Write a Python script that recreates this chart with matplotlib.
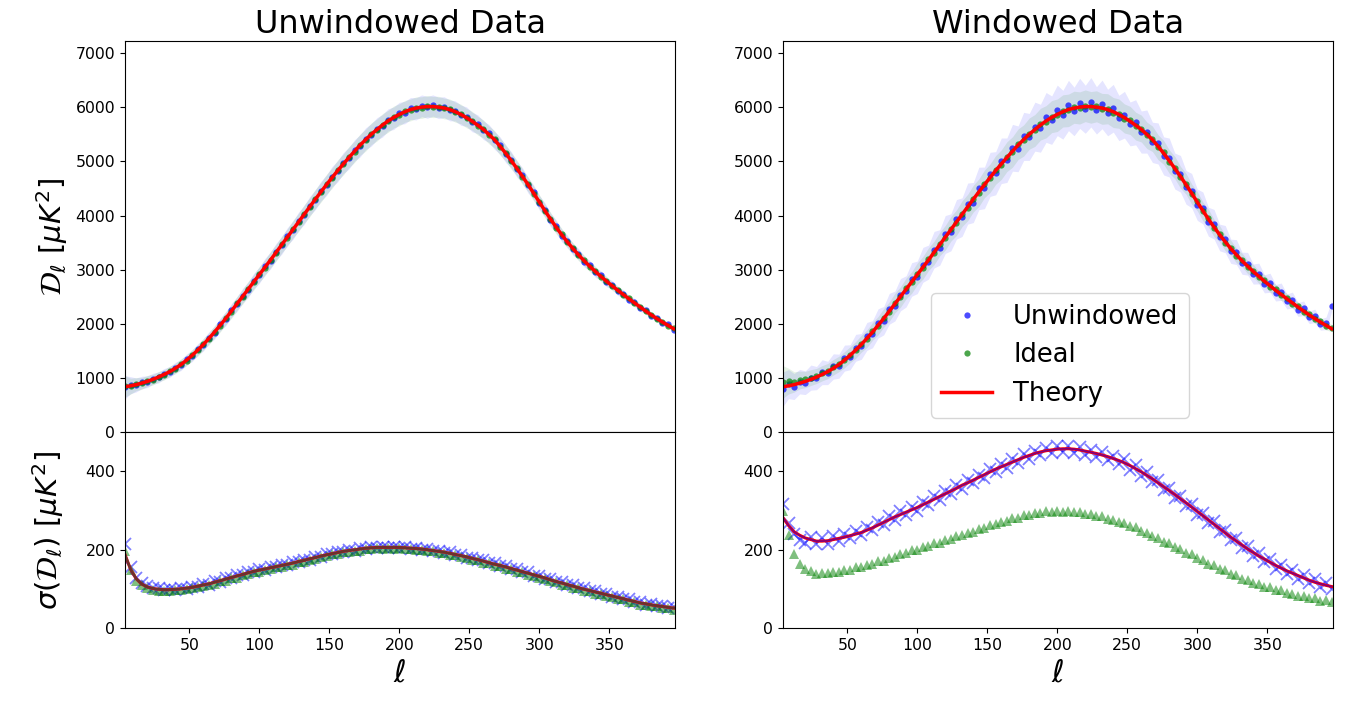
import numpy as np
import matplotlib
matplotlib.use("Agg")
import matplotlib.pyplot as plt

# multipoles of the binned points / theory curve
ell = np.arange(4, 397, 4)

# theory D_ell [muK^2]
d_theory = np.array([
    840, 858, 880, 908, 940, 978, 1020, 1068, 1120, 1182,
    1250, 1332, 1420, 1518, 1620, 1733, 1850, 1975, 2100, 2235,
    2370, 2505, 2640, 2775, 2910, 3045, 3180, 3320, 3460, 3600,
    3740, 3880, 4020, 4160, 4300, 4435, 4570, 4700, 4830, 4950,
    5070, 5185, 5300, 5400, 5500, 5585, 5670, 5745, 5810, 5865,
    5915, 5955, 5982, 6000, 6010, 6010, 6000, 5982, 5955, 5915,
    5865, 5805, 5740, 5665, 5590, 5495, 5400, 5275, 5150, 5010,
    4870, 4720, 4570, 4410, 4250, 4090, 3934, 3786, 3646, 3514,
    3390, 3274, 3166, 3064, 2968, 2876, 2788, 2704, 2622, 2542,
    2464, 2388, 2312, 2238, 2166, 2098, 2034, 1972, 1912])

# unwindowed data panel
d_unw_l = np.array([
    832, 870, 874, 921, 933, 990, 1012, 1080, 1113, 1195,
    1241, 1345, 1411, 1530, 1612, 1745, 1838, 1990, 2092, 2248,
    2362, 2520, 2628, 2790, 2898, 3060, 3170, 3335, 3448, 3615,
    3728, 3895, 4008, 4175, 4290, 4450, 4558, 4718, 4815, 4968,
    5058, 5200, 5286, 5418, 5488, 5602, 5655, 5765, 5795, 5885,
    5900, 5975, 5968, 6025, 5995, 6030, 5985, 6000, 5940, 5930,
    5850, 5825, 5725, 5685, 5575, 5515, 5385, 5292, 5135, 5028,
    4855, 4740, 4555, 4428, 4235, 4110, 3918, 3805, 3630, 3532,
    3375, 3292, 3150, 3082, 2952, 2895, 2772, 2722, 2605, 2560,
    2448, 2405, 2296, 2255, 2150, 2114, 2018, 1990, 1896])
d_ideal_l = np.array([
    848, 852, 889, 902, 948, 972, 1028, 1060, 1128, 1176,
    1258, 1325, 1428, 1510, 1628, 1725, 1858, 1968, 2108, 2228,
    2378, 2498, 2648, 2768, 2918, 3038, 3188, 3312, 3468, 3592,
    3748, 3872, 4028, 4152, 4308, 4428, 4578, 4692, 4838, 4942,
    5078, 5178, 5308, 5392, 5508, 5578, 5678, 5738, 5818, 5858,
    5922, 5948, 5990, 5992, 6018, 6002, 6008, 5975, 5962, 5908,
    5872, 5798, 5748, 5658, 5598, 5488, 5408, 5268, 5158, 5002,
    4878, 4712, 4578, 4402, 4258, 4082, 3942, 3778, 3654, 3506,
    3398, 3266, 3174, 3056, 2976, 2868, 2796, 2696, 2630, 2534,
    2472, 2380, 2320, 2230, 2174, 2090, 2042, 1964, 1920])

# windowed data panel
d_unw_r = np.array([
    795, 890, 845, 935, 915, 1010, 1000, 1110, 1095, 1215,
    1220, 1370, 1385, 1560, 1585, 1770, 1810, 2010, 2060, 2280,
    2330, 2540, 2600, 2820, 2860, 3090, 3140, 3370, 3410, 3650,
    3690, 3930, 3970, 4220, 4240, 4500, 4510, 4760, 4780, 5010,
    5020, 5250, 5230, 5460, 5450, 5640, 5610, 5810, 5760, 5940,
    5860, 6030, 5920, 6070, 5960, 6090, 5940, 6050, 5900, 5980,
    5800, 5860, 5690, 5720, 5540, 5550, 5350, 5330, 5100, 5070,
    4820, 4770, 4520, 4460, 4200, 4140, 3885, 3840, 3595, 3565,
    3340, 3325, 3120, 3110, 2920, 2930, 2740, 2760, 2575, 2595,
    2415, 2440, 2265, 2290, 2120, 2150, 1990, 2010, 2330])
d_ideal_r = np.array([
    930, 945, 930, 965, 975, 1010, 1040, 1090, 1130, 1200,
    1262, 1340, 1432, 1520, 1635, 1728, 1862, 1968, 2112, 2228,
    2385, 2498, 2655, 2765, 2925, 3035, 3195, 3310, 3472, 3590,
    3755, 3868, 4035, 4148, 4312, 4422, 4585, 4688, 4842, 4938,
    5085, 5172, 5315, 5385, 5512, 5570, 5685, 5730, 5825, 5850,
    5930, 5940, 5998, 5985, 6025, 5995, 6015, 5968, 5970, 5900,
    5880, 5790, 5755, 5650, 5605, 5480, 5415, 5260, 5165, 4995,
    4885, 4705, 4585, 4395, 4265, 4075, 3950, 3770, 3662, 3498,
    3405, 3260, 3180, 3050, 2983, 2860, 2803, 2690, 2637, 2528,
    2479, 2374, 2327, 2224, 2181, 2084, 2049, 1958, 1927])

# sigma(D_ell), unwindowed
sig_theory_l = np.array([
    188, 150, 126, 112, 105, 101, 99, 98, 98, 99,
    100, 102, 104, 107, 110, 113, 117, 121, 125, 129,
    133, 137, 141, 145, 148, 151, 154, 157, 160, 163,
    166, 170, 173, 177, 180, 184, 187, 190, 193, 196,
    198, 200, 202, 204, 205, 206, 206, 206, 206, 206,
    205, 204, 203, 202, 200, 198, 196, 194, 191, 188,
    185, 182, 178, 175, 171, 167, 163, 160, 156, 152,
    148, 144, 140, 136, 132, 128, 123, 119, 115, 111,
    107, 103, 99, 96, 92, 89, 85, 82, 78, 75,
    71, 68, 64, 62, 59, 57, 55, 53, 51])
sig_unw_l = np.array([
    215, 157, 129, 114, 108, 101, 101, 97, 100, 98,
    102, 100, 106, 105, 112, 111, 119, 118, 127, 127,
    135, 135, 143, 143, 150, 149, 156, 155, 162, 161,
    168, 168, 175, 175, 182, 182, 189, 188, 195, 194,
    200, 198, 204, 202, 207, 204, 208, 204, 208, 204,
    207, 202, 205, 200, 202, 196, 198, 192, 193, 186,
    187, 180, 180, 173, 173, 165, 165, 158, 158, 150,
    150, 142, 142, 134, 134, 126, 125, 117, 117, 109,
    109, 101, 101, 94, 94, 87, 87, 80, 80, 73,
    73, 66, 66, 60, 61, 55, 57, 51, 53])
sig_ideal_l = np.array([
    198, 147, 121, 109, 101, 98, 95, 95, 94, 96,
    97, 100, 101, 105, 107, 111, 113, 119, 121, 127,
    129, 135, 137, 143, 144, 149, 150, 155, 156, 161,
    162, 168, 169, 175, 176, 182, 183, 188, 189, 194,
    194, 198, 198, 202, 201, 204, 202, 204, 202, 204,
    201, 202, 199, 200, 196, 196, 192, 192, 187, 186,
    181, 180, 174, 173, 167, 165, 159, 158, 152, 150,
    144, 142, 136, 134, 128, 126, 119, 117, 111, 109,
    103, 101, 95, 94, 88, 87, 81, 80, 74, 73,
    67, 66, 60, 60, 55, 55, 51, 51, 47])

# sigma(D_ell), windowed
sig_theory_r = np.array([
    282, 262, 246, 237, 230, 226, 222, 222, 223, 226,
    229, 232, 236, 240, 244, 250, 256, 263, 270, 277,
    284, 290, 296, 302, 308, 315, 322, 329, 336, 343,
    350, 357, 365, 371, 378, 385, 392, 399, 406, 412,
    418, 424, 430, 436, 441, 446, 450, 453, 455, 457,
    458, 458, 457, 455, 452, 449, 446, 442, 438, 433,
    428, 422, 415, 407, 399, 390, 381, 371, 361, 351,
    341, 330, 320, 309, 298, 287, 276, 265, 254, 243,
    232, 222, 212, 202, 193, 184, 176, 168, 160, 153,
    146, 140, 134, 128, 122, 117, 113, 109, 106])
sig_unw_r = np.array([
    318, 268, 240, 226, 218, 232, 214, 230, 215, 234,
    222, 240, 230, 248, 238, 258, 250, 270, 262, 285,
    276, 298, 288, 310, 300, 322, 314, 337, 328, 350,
    342, 365, 356, 379, 370, 392, 384, 407, 398, 420,
    410, 432, 422, 444, 433, 452, 442, 460, 447, 466,
    450, 464, 448, 462, 443, 456, 437, 449, 430, 440,
    418, 431, 405, 416, 389, 398, 372, 379, 352, 359,
    332, 338, 311, 317, 289, 295, 268, 273, 246, 251,
    224, 230, 204, 210, 185, 192, 168, 176, 152, 160,
    138, 147, 126, 135, 114, 124, 105, 116, 100])
sig_ideal_r = np.array([
    300, 238, 188, 163, 150, 146, 139, 141, 140, 144,
    142, 149, 148, 155, 156, 162, 163, 170, 171, 179,
    181, 189, 191, 199, 200, 208, 209, 217, 218, 226,
    227, 235, 237, 244, 246, 254, 255, 263, 265, 272,
    274, 281, 282, 288, 288, 294, 293, 298, 296, 300,
    297, 300, 296, 297, 292, 292, 286, 285, 278, 277,
    270, 268, 260, 257, 248, 244, 234, 230, 220, 216,
    206, 202, 192, 188, 178, 174, 164, 160, 150, 147,
    138, 135, 126, 123, 115, 113, 105, 104, 97, 96,
    89, 88, 82, 82, 76, 76, 70, 71, 66])

titles = ["Unwindowed Data", "Windowed Data"]
columns = [
    (d_unw_l, d_ideal_l, sig_unw_l, sig_ideal_l, sig_theory_l),
    (d_unw_r, d_ideal_r, sig_unw_r, sig_ideal_r, sig_theory_r),
]

fig = plt.figure(figsize=(13.45, 7.02), dpi=100)
gs = fig.add_gridspec(2, 2, height_ratios=[2, 1], left=0.0929, right=0.9911,
                      top=0.9416, bottom=0.1054, hspace=0, wspace=0.196)

for col, (d_unw, d_ideal, s_unw, s_ideal, s_th) in enumerate(columns):
    ax = fig.add_subplot(gs[0, col])
    axs = fig.add_subplot(gs[1, col], sharex=ax)

    ax.fill_between(ell, d_unw - s_unw, d_unw + s_unw, color="blue", alpha=0.1, lw=0)
    ax.fill_between(ell, d_ideal - s_ideal, d_ideal + s_ideal, color="green", alpha=0.1, lw=0)
    ax.plot(ell, d_unw, "o", color="blue", alpha=0.7, ms=4.5, mew=0, label="Unwindowed")
    ax.plot(ell, d_ideal, "o", color="green", alpha=0.7, ms=4.5, mew=0, label="Ideal")
    ax.plot(ell, d_theory, "-", color="red", lw=2.5, label="Theory")

    axs.plot(ell, s_unw, "x", color="blue", alpha=0.5, ms=8, mew=1.3)
    axs.plot(ell, s_ideal, "^", color="green", alpha=0.5, ms=7.5, mew=0)
    axs.plot(ell, s_th, "-", color="red", lw=2.2)
    if col == 0:
        axs.plot(ell, s_th, "-", color="blue", lw=1.8, alpha=0.3)
        axs.plot(ell, s_th, "-", color="green", lw=1.8, alpha=0.4)
    else:
        axs.plot(ell, s_th, "-", color="blue", lw=1.2, alpha=0.5)

    ax.set_xlim(4, 397)
    ax.set_ylim(0, 7220)
    axs.set_ylim(0, 500)
    ax.set_yticks(np.arange(0, 7001, 1000))
    axs.set_yticks([0, 200, 400])
    axs.set_xticks(np.arange(50, 351, 50))
    ax.tick_params(labelbottom=False, labelsize=11.3)
    axs.tick_params(labelsize=11.3)
    ax.set_title(titles[col], fontsize=23)
    axs.set_xlabel(r"$\ell$", fontsize=22)
    if col == 0:
        ax.set_ylabel(r"$\mathcal{D}_\ell\ [\mu K^2]$", fontsize=21)
        axs.set_ylabel(r"$\sigma(\mathcal{D}_\ell)\ [\mu K^2]$", fontsize=21, labelpad=14)
    else:
        ax.legend(loc="lower right", bbox_to_anchor=(0.761, 0.005), fontsize=18.5)

fig.savefig("out.png", dpi=100)
